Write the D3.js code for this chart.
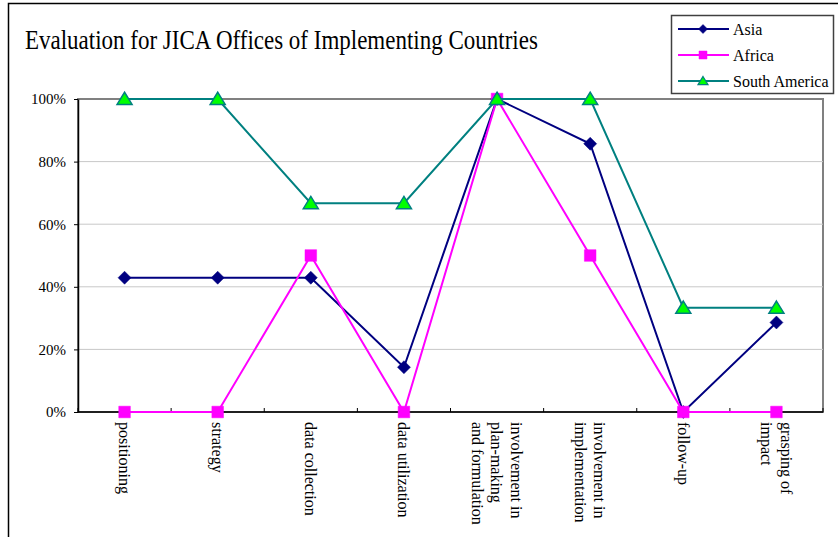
<!DOCTYPE html>
<html>
<head>
<meta charset="utf-8">
<script src="https://cdn.jsdelivr.net/npm/d3@7"></script>
<style>
  html, body { margin: 0; padding: 0; background: #fff; }
  svg { display: block; }
</style>
</head>
<body>
<svg id="chart" width="838" height="537"></svg>
<script>
// Evaluation categories (x axis), each split into display lines
const categories = [
  "positioning",
  "strategy",
  "data collection",
  "data utilization",
  "involvement in plan-making and formulation",
  "involvement in implementation",
  "follow-up",
  "grasping of impact"
];
const categoryLines = [
  ["positioning"],
  ["strategy"],
  ["data collection"],
  ["data utilization"],
  ["involvement in", "plan-making", "and formulation"],
  ["involvement in", "implementation"],
  ["follow-up"],
  ["grasping of", "impact"]
];

// Share of offices rating each item, per region
const asiaValues         = [0.429, 0.429, 0.429, 0.143, 1.0, 0.857, 0.0, 0.286];
const africaValues       = [0.0, 0.0, 0.5, 0.0, 1.0, 0.5, 0.0, 0.0];
const southAmericaValues = [1.0, 1.0, 0.667, 0.667, 1.0, 1.0, 0.333, 0.333];

const seriesNames = ["Asia", "Africa", "South America"];
const yTicks = [0, 0.2, 0.4, 0.6, 0.8, 1.0];

const FONT = "'Liberation Serif', 'Times New Roman', serif";

const series = [
  { name: seriesNames[0], values: asiaValues, color: "#000080", fill: "#000080", marker: "diamond" },
  { name: seriesNames[1], values: africaValues, color: "#ff00ff", fill: "#ff00ff", marker: "square" },
  { name: seriesNames[2], values: southAmericaValues, color: "#008080", fill: "#00ff00", marker: "triangle" }
];

// Marker outlines, r = half-size
function markerPath(type, r) {
  if (type === "diamond") return `M0,${-r}L${r},0L0,${r}L${-r},0Z`;
  if (type === "square") return `M${-r},${-r}H${r}V${r}H${-r}Z`;
  const h = r * 0.9;
  return `M0,${-h}L${r},${h * 0.8}L${-r},${h * 0.8}Z`;
}

const svg = d3.select("#chart");

// Outer chart frame
svg.append("rect")
  .attr("x", 8.5).attr("y", 3.5)
  .attr("width", 900).attr("height", 600)
  .attr("fill", "#fff").attr("stroke", "#000").attr("stroke-width", 1.5);

// Title
svg.append("text")
  .attr("transform", "translate(25,49) scale(1,1.18)")
  .style("font-family", FONT)
  .style("font-size", "23px")
  .text("Evaluation for JICA Offices of Implementing Countries");

// Plot area
const plot = { left: 78, right: 823, top: 99, bottom: 412 };

const x = d3.scaleBand()
  .domain(categories)
  .range([plot.left, plot.right])
  .paddingInner(0).paddingOuter(0);

const y = d3.scaleLinear()
  .domain([0, 1])
  .range([plot.bottom, plot.top]);

const cx = c => x(c) + x.bandwidth() / 2;

// Plot area border
svg.append("rect")
  .attr("x", plot.left).attr("y", plot.top)
  .attr("width", plot.right - plot.left)
  .attr("height", plot.bottom - plot.top)
  .attr("fill", "#fff").attr("stroke", "#808080").attr("stroke-width", 2);

// Horizontal gridlines
svg.append("g")
  .selectAll("line")
  .data(yTicks.filter(t => t > 0 && t < 1))
  .join("line")
  .attr("x1", plot.left).attr("x2", plot.right)
  .attr("y1", d => y(d)).attr("y2", d => y(d))
  .attr("stroke", "#c8c8c8").attr("stroke-width", 1);

// Y axis
const yAxis = svg.append("g")
  .attr("transform", `translate(${plot.left},0)`)
  .call(d3.axisLeft(y).tickValues(yTicks).tickFormat(d3.format(".0%")).tickSizeInner(4).tickSizeOuter(0));
yAxis.select(".domain").attr("stroke", "#000").attr("stroke-width", 1.5);
yAxis.selectAll(".tick line").attr("stroke", "#000");
yAxis.selectAll(".tick text")
  .style("font-family", FONT)
  .style("font-size", "15px")
  .attr("fill", "#000")
  .attr("x", -12);

// X axis: line and tick marks at category boundaries
svg.append("line")
  .attr("x1", plot.left).attr("x2", plot.right)
  .attr("y1", plot.bottom).attr("y2", plot.bottom)
  .attr("stroke", "#000").attr("stroke-width", 1.5);

const boundaries = categories.map(c => x(c)).concat([x(categories[categories.length - 1]) + x.bandwidth()]);
svg.append("g")
  .selectAll("line")
  .data(boundaries)
  .join("line")
  .attr("x1", d => d).attr("x2", d => d)
  .attr("y1", plot.bottom - 4).attr("y2", plot.bottom)
  .attr("stroke", "#000").attr("stroke-width", 1);

// Rotated category labels
const lineStep = 19.5;
const labelGroups = svg.append("g")
  .selectAll("g")
  .data(categories)
  .join("g")
  .attr("transform", d => `translate(${cx(d)},${plot.bottom + 10}) rotate(90)`);

labelGroups.each(function (d, i) {
  const lines = categoryLines[i];
  const n = lines.length;
  d3.select(this).selectAll("text")
    .data(lines)
    .join("text")
    .style("font-family", FONT)
    .style("font-size", "16px")
    .attr("text-anchor", "start")
    .attr("x", 0)
    .attr("y", (l, j) => (j - (n - 1) / 2) * lineStep)
    .attr("dy", "0.35em")
    .text(l => l);
});

// Series lines and markers
const line = d3.line()
  .x((v, i) => cx(categories[i]))
  .y(v => y(v));

const markerSize = { diamond: 6.5, square: 5.8, triangle: 7.5 };

series.forEach(s => {
  const g = svg.append("g");
  g.append("path")
    .attr("d", line(s.values))
    .attr("fill", "none")
    .attr("stroke", s.color)
    .attr("stroke-width", 2);
  g.selectAll("path.pt")
    .data(s.values)
    .join("path")
    .attr("class", "pt")
    .attr("transform", (v, i) => `translate(${cx(categories[i])},${y(v)})`)
    .attr("d", markerPath(s.marker, markerSize[s.marker]))
    .attr("fill", s.fill)
    .attr("stroke", s.color)
    .attr("stroke-width", s.marker === "triangle" ? 1.5 : 0.5);
});

// Legend
const legend = svg.append("g");
legend.append("rect")
  .attr("x", 671.5).attr("y", 15.5)
  .attr("width", 162).attr("height", 78)
  .attr("fill", "#fff").attr("stroke", "#404040").attr("stroke-width", 1.5);

const legendSize = { diamond: 4.5, square: 4, triangle: 5 };

series.forEach((s, i) => {
  const ly = 29 + i * 26;
  const row = legend.append("g");
  row.append("line")
    .attr("x1", 678).attr("x2", 729)
    .attr("y1", ly).attr("y2", ly)
    .attr("stroke", s.color).attr("stroke-width", 2);
  row.append("path")
    .attr("transform", `translate(703,${ly})`)
    .attr("d", markerPath(s.marker, legendSize[s.marker]))
    .attr("fill", s.fill)
    .attr("stroke", s.color)
    .attr("stroke-width", s.marker === "triangle" ? 1.2 : 0.5);
  row.append("text")
    .attr("x", 733).attr("y", ly)
    .attr("dy", "0.35em")
    .style("font-family", FONT)
    .style("font-size", "16px")
    .text(s.name);
});
</script>
</body>
</html>
